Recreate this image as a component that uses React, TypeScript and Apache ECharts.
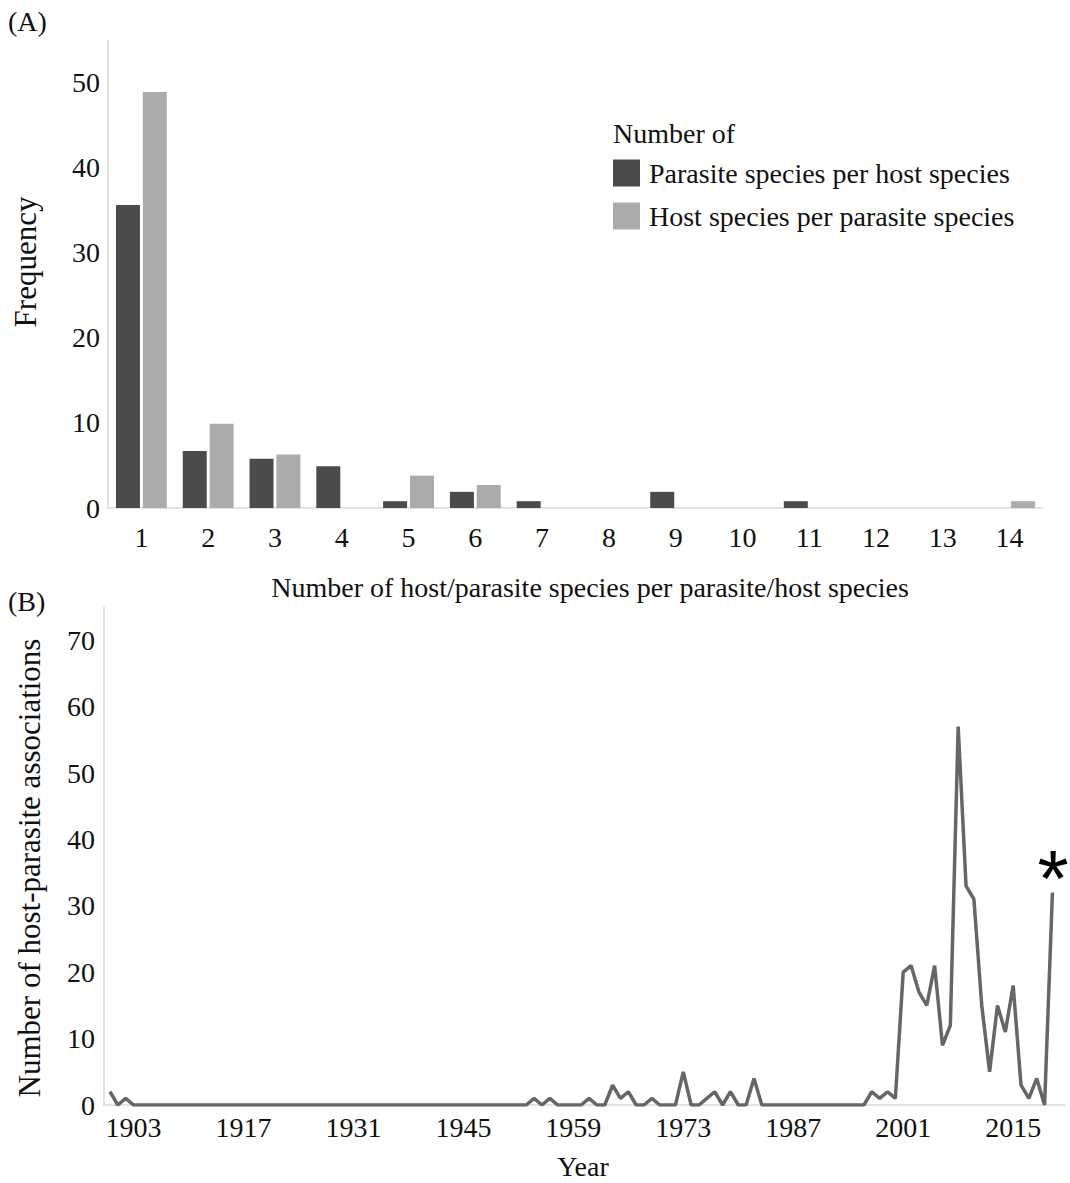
import React, { useEffect, useRef } from "react";
import * as echarts from "echarts";

// Panel A data
const speciesCounts = ["1", "2", "3", "4", "5", "6", "7", "8", "9", "10", "11", "12", "13", "14"];
const parasitePerHost = [35.6, 6.7, 5.8, 4.9, 0.8, 1.9, 0.8, 0, 1.9, 0, 0.8, 0, 0, 0];
const hostPerParasite = [48.9, 9.9, 6.3, 0, 3.8, 2.7, 0, 0, 0, 0, 0, 0, 0, 0.8];
const legendNames = ["Parasite species per host species", "Host species per parasite species"];

// Panel B data (years 1900..2020)
const firstYear = 1900;
const associations = [
  2, 0, 1, 0, 0, 0, 0, 0, 0, 0,
  0, 0, 0, 0, 0, 0, 0, 0, 0, 0,
  0, 0, 0, 0, 0, 0, 0, 0, 0, 0,
  0, 0, 0, 0, 0, 0, 0, 0, 0, 0,
  0, 0, 0, 0, 0, 0, 0, 0, 0, 0,
  0, 0, 0, 0, 1, 0, 1, 0, 0, 0,
  0, 1, 0, 0, 3, 1, 2, 0, 0, 1,
  0, 0, 0, 5, 0, 0, 1, 2, 0, 2,
  0, 0, 4, 0, 0, 0, 0, 0, 0, 0,
  0, 0, 0, 0, 0, 0, 0, 2, 1, 2,
  1, 20, 21, 17, 15, 21, 9, 12, 57, 33,
  31, 15, 5, 15, 11, 18, 3, 1, 4, 0, 32,
];
const yearTicks = [1903, 1917, 1931, 1945, 1959, 1973, 1987, 2001, 2015];

const SERIF = "'Liberation Serif', 'Times New Roman', serif";
const AXIS_COLOR = "#d9d9d9";
const TEXT = "#111";
const FS = 28;

export default function App() {
  const ref = useRef<HTMLDivElement>(null);
  useEffect(() => {
    if (!ref.current) return;
    const chart = echarts.init(ref.current, undefined, { renderer: "svg" });
    const lineData = associations.map((v, i) => [firstYear + i, v]);
    const txt = (text: string, x: number, y: number, extra: any = {}) => ({
      type: "text",
      x,
      y,
      rotation: extra.rotation || 0,
      style: {
        text,
        fontFamily: extra.fontFamily || SERIF,
        fontSize: extra.fontSize || FS,
        fill: extra.fill || TEXT,
        align: extra.align || "center",
        verticalAlign: extra.verticalAlign || "middle",
      },
    });
    chart.setOption({
      animation: false,
      backgroundColor: "#fff",
      textStyle: { fontFamily: SERIF },
      grid: [
        { left: 108, top: 40, width: 935, height: 468 },
        { left: 104, top: 607, width: 961, height: 498 },
      ],
      xAxis: [
        {
          gridIndex: 0,
          type: "category",
          data: speciesCounts,
          axisTick: { show: false },
          axisLine: { lineStyle: { color: AXIS_COLOR, width: 1.5 } },
          axisLabel: { color: TEXT, fontSize: FS, fontFamily: SERIF, margin: 15 },
        },
        {
          gridIndex: 1,
          type: "value",
          min: 1899.24,
          max: 2021.6,
          splitLine: { show: false },
          axisTick: { show: false },
          axisLine: { lineStyle: { color: AXIS_COLOR, width: 1.5 } },
          axisLabel: {
            color: TEXT,
            fontSize: FS,
            fontFamily: SERIF,
            margin: 8,
            customValues: yearTicks,
            formatter: (v: number) => String(Math.round(v)),
          },
        },
      ],
      yAxis: [
        {
          gridIndex: 0,
          type: "value",
          min: 0,
          max: 55,
          interval: 10,
          splitLine: { show: false },
          axisTick: { show: false },
          axisLine: { show: true, lineStyle: { color: AXIS_COLOR, width: 1.5 } },
          axisLabel: { color: TEXT, fontSize: FS, fontFamily: SERIF, margin: 8, showMaxLabel: false },
        },
        {
          gridIndex: 1,
          type: "value",
          min: 0,
          max: 75,
          interval: 10,
          splitLine: { show: false },
          axisTick: { show: false },
          axisLine: { show: true, lineStyle: { color: AXIS_COLOR, width: 1.5 } },
          axisLabel: { color: TEXT, fontSize: FS, fontFamily: SERIF, margin: 9, showMaxLabel: false },
        },
      ],
      legend: {
        data: legendNames,
        orient: "vertical",
        left: 613,
        top: 159,
        padding: 0,
        itemWidth: 27,
        itemHeight: 27,
        itemGap: 15,
        icon: "rect",
        selectedMode: false,
        textStyle: { color: TEXT, fontSize: FS, fontFamily: SERIF, padding: [0, 0, 0, 4] },
      },
      series: [
        {
          name: legendNames[0],
          type: "bar",
          xAxisIndex: 0,
          yAxisIndex: 0,
          data: parasitePerHost,
          barWidth: 24,
          barGap: "12%",
          itemStyle: { color: "#4b4b4b" },
        },
        {
          name: legendNames[1],
          type: "bar",
          xAxisIndex: 0,
          yAxisIndex: 0,
          data: hostPerParasite,
          barWidth: 24,
          itemStyle: { color: "#ababab" },
        },
        {
          name: "Associations",
          type: "line",
          xAxisIndex: 1,
          yAxisIndex: 1,
          data: lineData,
          symbol: "none",
          lineStyle: { color: "#666666", width: 3.5 },
        },
      ],
      graphic: [
        txt("(A)", 8, 7, { align: "left", verticalAlign: "top" }),
        txt("(B)", 8, 587, { align: "left", verticalAlign: "top" }),
        txt("Number of", 613, 133, { align: "left" }),
        txt("Frequency", 25, 262, { rotation: Math.PI / 2, fontSize: 31 }),
        txt("Number of host/parasite species per parasite/host species", 590, 587),
        txt("Number of host-parasite associations", 29, 868, { rotation: Math.PI / 2, fontSize: 31 }),
        txt("Year", 583, 1166),
        txt("*", 1053, 838, {
          fontFamily: "'Liberation Sans', Arial, sans-serif",
          fontSize: 80,
          fill: "#000",
          verticalAlign: "top",
        }),
      ],
    });
    return () => chart.dispose();
  }, []);
  return (
    <div
      ref={ref}
      style={{ position: "absolute", left: 0, top: 0, width: 1070, height: 1183, background: "#fff" }}
    />
  );
}
